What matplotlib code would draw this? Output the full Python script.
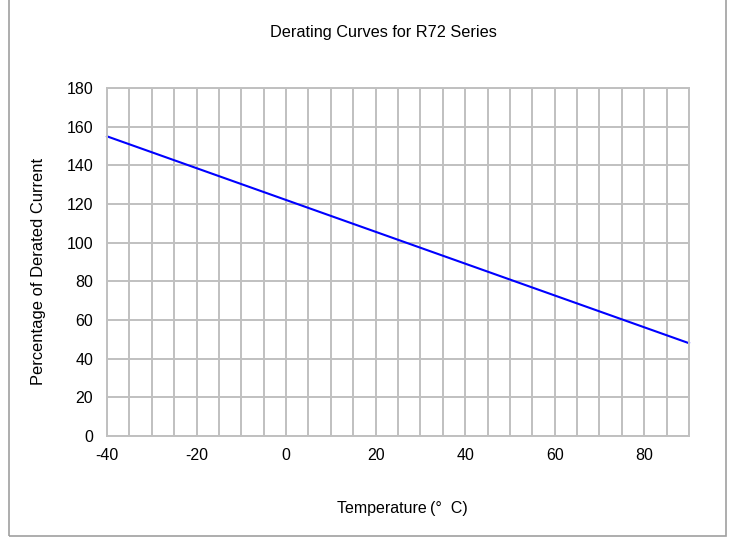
import matplotlib
matplotlib.use("Agg")
import matplotlib.pyplot as plt
from matplotlib.patches import Rectangle
import numpy as np

temperature = [-40, 90]
derated_pct = [155, 48]

x_major = [-40, -20, 0, 20, 40, 60, 80]
y_major = [0, 20, 40, 60, 80, 100, 120, 140, 160, 180]

plt.rcParams["font.family"] = ["Liberation Sans", "DejaVu Sans"]
plt.rcParams["axes.unicode_minus"] = False

fig = plt.figure(figsize=(7.31, 5.37), dpi=100)
ax = fig.add_axes([107 / 731, 1 - 436 / 537, (689 - 107) / 731, (436 - 88) / 537])

grid_color = "#c0c0c0"
fs = 11.5
ax.set_xlim(-40, 90)
ax.set_ylim(0, 180)
ax.set_xticks(x_major)
ax.set_xticks(np.arange(-40, 91, 5), minor=True)
ax.set_yticks(y_major)
ax.grid(True, which="both", axis="x", color=grid_color, linewidth=1.4)
ax.grid(True, which="major", axis="y", color=grid_color, linewidth=1.4)
ax.tick_params(which="both", length=0, labelsize=fs)
ax.tick_params(axis="y", pad=10)
ax.tick_params(axis="x", pad=9)
for s in ax.spines.values():
    s.set_color(grid_color)
    s.set_linewidth(1.4)
ax.set_axisbelow(True)

ax.plot(temperature, derated_pct, color="#0000ff", linewidth=1.5, clip_on=False)

fig.text(402 / 731, 1 - 508 / 537, "Temperature\u2009(\u00b0  C)", ha="center", va="center", fontsize=fs)
fig.text(39 / 731, 1 - 271.5 / 537, "Percentage of Derated Current", ha="center", va="center",
         rotation=90, fontsize=11.9)
fig.text(383 / 731, 1 - 32 / 537, "Derating Curves for R72 Series", ha="center", va="center", fontsize=11.7)

fig.patches.append(Rectangle((9 / 731, 1 / 537), (726 - 9) / 731, 540 / 537,
                             transform=fig.transFigure, fill=False,
                             edgecolor="#a0a0a0", linewidth=1.2))

fig.savefig("out.png", dpi=100)
